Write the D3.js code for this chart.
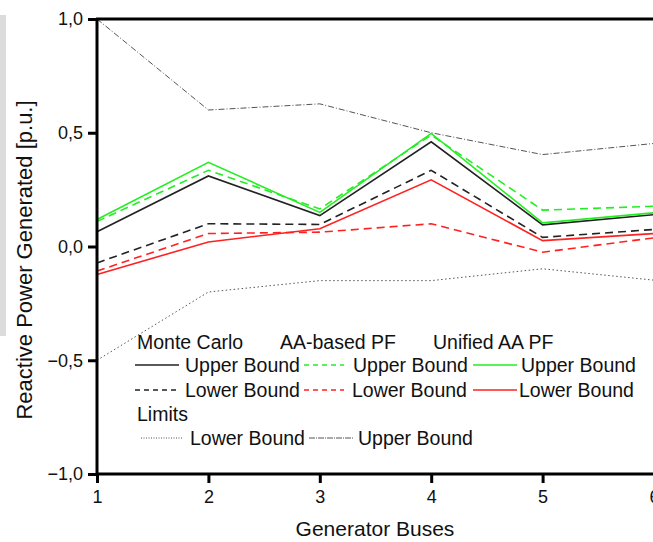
<!DOCTYPE html>
<html>
<head>
<meta charset="utf-8">
<script src="https://cdn.jsdelivr.net/npm/d3@7"></script>
<style>
  body { margin: 0; background: #fff; }
  svg { display: block; font-family: "Liberation Sans", Arial, sans-serif; }
</style>
</head>
<body>
<svg id="chart" width="653" height="542"></svg>
<script>
// generator buses
var buses = [1, 2, 3, 4, 5, 6];
var yTicks = [-1.0, -0.5, 0.0, 0.5, 1.0];

// Monte Carlo
var mcUpper = [0.065, 0.31, 0.136, 0.46, 0.095, 0.14];
var mcLower = [-0.072, 0.10, 0.097, 0.335, 0.04, 0.075];
// AA-based PF
var aaUpper = [0.11, 0.335, 0.165, 0.49, 0.16, 0.177];
var aaLower = [-0.108, 0.057, 0.063, 0.10, -0.025, 0.038];
// Unified AA PF
var uaUpper = [0.119, 0.37, 0.15, 0.497, 0.104, 0.148];
var uaLower = [-0.123, 0.02, 0.078, 0.293, 0.026, 0.057];
// limits
var limUpper = [1.0, 0.60, 0.627, 0.50, 0.404, 0.453];
var limLower = [-0.5, -0.20, -0.15, -0.15, -0.098, -0.148];

var svg = d3.select("#chart");

var x = d3.scaleLinear().domain([1, 6]).range([97, 654]);
var y = d3.scaleLinear().domain([-1, 1]).range([474, 19]);

// grey strip at the left edge
svg.append("rect")
  .attr("x", 0).attr("y", 15)
  .attr("width", 6).attr("height", 321)
  .attr("fill", "#dcdcdc");

var line = d3.line()
  .x(function(d, i) { return x(buses[i]); })
  .y(function(d) { return y(d); });

var series = [
  { data: limUpper, color: "#555", width: 1, dash: "6,2,1,2" },
  { data: limLower, color: "#555", width: 1, dash: "1.5,2.5" },
  { data: mcUpper, color: "#222", width: 1.6, dash: null },
  { data: mcLower, color: "#222", width: 1.6, dash: "8,5" },
  { data: aaLower, color: "#ff2020", width: 1.6, dash: "8,5" },
  { data: uaLower, color: "#ff2020", width: 1.6, dash: null },
  { data: aaUpper, color: "#22ee22", width: 1.6, dash: "8,5" },
  { data: uaUpper, color: "#22ee22", width: 1.6, dash: null }
];

var linesG = svg.append("g");
series.forEach(function(s) {
  linesG.append("path")
    .attr("d", line(s.data))
    .attr("fill", "none")
    .attr("stroke", s.color)
    .attr("stroke-width", s.width)
    .attr("stroke-dasharray", s.dash);
});

// axes
var yAxis = d3.axisLeft(y)
  .tickValues(yTicks)
  .tickSize(9)
  .tickPadding(5)
  .tickFormat(function(d) { return d3.format(".1f")(d).replace(".", ","); });
var xAxis = d3.axisBottom(x)
  .tickValues(buses)
  .tickSize(9)
  .tickPadding(7)
  .tickFormat(d3.format("d"));

var yG = svg.append("g").attr("transform", "translate(97,0)").call(yAxis);
var xG = svg.append("g").attr("transform", "translate(0,474)").call(xAxis);
[yG, xG].forEach(function(g) {
  g.select(".domain").attr("stroke", "#000").attr("stroke-width", 3);
  g.selectAll(".tick line").attr("stroke", "#000").attr("stroke-width", 3);
  g.selectAll(".tick text")
    .attr("fill", "#111")
    .style("font-size", "18px")
    .style("font-family", "Liberation Sans, Arial, sans-serif");
});
yG.select(".domain").attr("d", "M0,19V474");
xG.select(".domain").attr("d", "M97,0H654");

// top frame
svg.append("line")
  .attr("x1", 96).attr("x2", 654)
  .attr("y1", 19).attr("y2", 19)
  .attr("stroke", "#000").attr("stroke-width", 3);

// titles
svg.append("text")
  .attr("transform", "translate(32,260) rotate(-90)")
  .attr("text-anchor", "middle")
  .style("font-size", "22px")
  .attr("fill", "#111")
  .text("Reactive Power Generated [p.u.]");
svg.append("text")
  .attr("x", 375).attr("y", 536)
  .attr("text-anchor", "middle")
  .style("font-size", "21px")
  .attr("fill", "#111")
  .text("Generator Buses");

// legend
var legG = svg.append("g").style("font-size", "19.5px").attr("fill", "#111");
var headers = [
  { label: "Monte Carlo", x: 137 },
  { label: "AA-based PF", x: 280 },
  { label: "Unified AA PF", x: 433 }
];
headers.forEach(function(h) {
  legG.append("text").attr("x", h.x).attr("y", 349).text(h.label);
});
var legendRows = [
  { x1: 135, x2: 179, tx: 185, y: 365, color: "#222", dash: null, label: "Upper Bound" },
  { x1: 304, x2: 344, tx: 353, y: 365, color: "#22ee22", dash: "5,4", label: "Upper Bound" },
  { x1: 473, x2: 517, tx: 521, y: 365, color: "#22ee22", dash: null, label: "Upper Bound" },
  { x1: 135, x2: 179, tx: 185, y: 390, color: "#222", dash: "5,4", label: "Lower Bound" },
  { x1: 304, x2: 344, tx: 352, y: 390, color: "#ff2020", dash: "5,4", label: "Lower Bound" },
  { x1: 473, x2: 517, tx: 519, y: 390, color: "#ff2020", dash: null, label: "Lower Bound" },
  { x1: 141, x2: 183, tx: 190, y: 438, color: "#555", dash: "1,1.5", label: "Lower Bound", w: 1 },
  { x1: 309, x2: 353, tx: 358, y: 438, color: "#555", dash: "6,1,1,1", label: "Upper Bound", w: 1 }
];
legendRows.forEach(function(r) {
  legG.append("line")
    .attr("x1", r.x1).attr("x2", r.x2)
    .attr("y1", r.y).attr("y2", r.y)
    .attr("stroke", r.color)
    .attr("stroke-width", r.w || 1.6)
    .attr("stroke-dasharray", r.dash);
  legG.append("text").attr("x", r.tx).attr("y", r.y + 7).text(r.label);
});
legG.append("text").attr("x", 137).attr("y", 421).text("Limits");
</script>
</body>
</html>
